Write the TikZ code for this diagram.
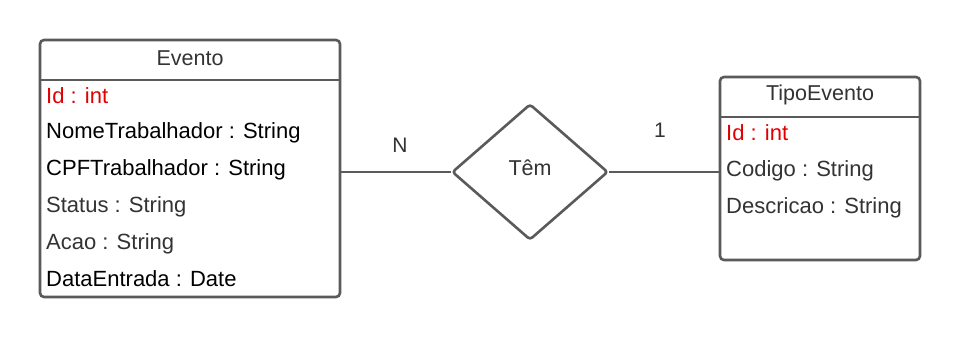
\documentclass[tikz,border=0pt]{standalone}
\usepackage{fontspec}
\setmainfont{Liberation Sans}
\usetikzlibrary{shapes.geometric}
\definecolor{edge}{HTML}{5A5A5A}
\definecolor{soft}{HTML}{333333}
\definecolor{key}{HTML}{E00000}
\begin{document}
\begin{tikzpicture}[x=1pt,y=-1pt,
  entity/.style={draw=edge,line width=2.6pt,rounded corners=4pt,fill=white,inner sep=0pt},
  attr/.style={anchor=west,inner sep=0pt,font=\fontsize{22}{24}\selectfont},
  title/.style={inner sep=0pt,text=soft,font=\fontsize{21.5}{24}\selectfont},
  link/.style={draw=edge,line width=2.2pt},
  card/.style={inner sep=0pt,text=soft,font=\fontsize{21}{24}\selectfont}]
\useasboundingbox[fill=white] (0,0) rectangle (960,337);

% Evento entity
\node[entity,minimum width=300pt,minimum height=257pt] (evento) at (190,168.5) {};
\draw[edge,line width=2.6pt] (40,80) -- (340,80);
\node[title] (eventoT) at (190,58) {Evento};
\node[attr,text=key] (e1) at (46,96) {Id : int};
\node[attr,text=black] (e2) at (46,132.5) {NomeTrabalhador : String};
\node[attr,text=black] (e3) at (46,169.5) {CPFTrabalhador : String};
\node[attr,text=soft] (e4) at (46,207) {Status : String};
\node[attr,text=soft] (e5) at (46,243.5) {Acao : String};
\node[attr,text=black] (e6) at (46,278.5) {DataEntrada : Date};

% TipoEvento entity
\node[entity,minimum width=200pt,minimum height=183pt] (tipo) at (820,168.5) {};
\draw[edge,line width=2.6pt] (720,117) -- (920,117);
\node[title] (tipoT) at (820,95) {TipoEvento};
\node[attr,text=key] (t1) at (726,132.5) {Id : int};
\node[attr,text=soft] (t2) at (726,170.5) {Codigo : String};
\node[attr,text=soft] (t3) at (726,207.5) {Descricao : String};

% relationship
\node[diamond,draw=edge,line width=2.6pt,rounded corners=3pt,inner sep=0pt,
      minimum width=156pt,minimum height=136pt,fill=white] (rel) at (530,172) {};
\node[inner sep=0pt,text=soft,font=\fontsize{21.5}{24}\selectfont] (relT) at (530,168) {Têm};

\draw[link] (evento.east |- rel.west) -- (rel.west);
\draw[link] (rel.east) -- (tipo.west |- rel.east);

\node[card] (cN) at (400,145) {N};
\node[card] (c1) at (660,130) {1};
\end{tikzpicture}
\end{document}
